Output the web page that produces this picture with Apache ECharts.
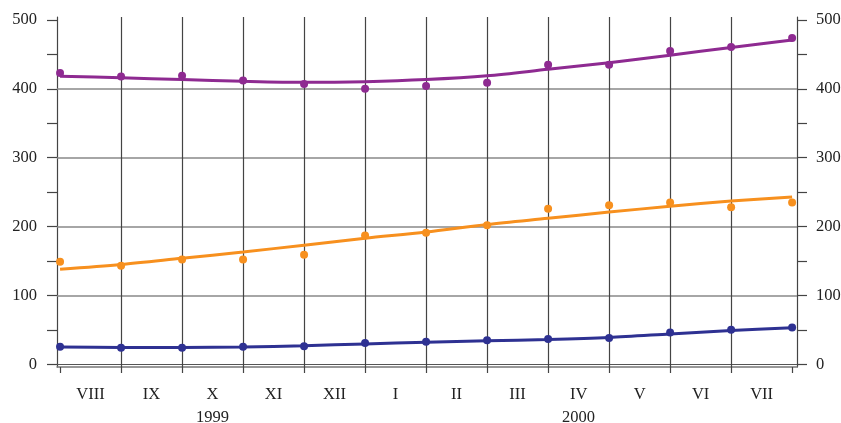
<!DOCTYPE html>
<html>
<head>
<meta charset="utf-8">
<script src="https://cdn.jsdelivr.net/npm/echarts@6/dist/echarts.min.js"></script>
<style>html,body{margin:0;padding:0;background:#fff}#c{width:841px;height:423px}</style>
</head>
<body>
<div id="c"></div>
<script>
var monthLabels = ['VIII','IX','X','XI','XII','I','II','III','IV','V','VI','VII'];
var yearLabels = ['1999','2000'];
var yTickLabels = [0,100,200,300,400,500];
var purpleObs   = [423,418,419,412,407,400,404,409,435,435,455,461,474];
var purpleTrend = [418.5,416,413.5,411,409.5,410.5,413.5,419,428.5,438,449,460,471];
var orangeObs   = [149,143,152,152,159,187,191,202,226,231,235,228,235];
var orangeTrend = [138,145,154,163,173,183,192,203,212,221,229.5,237,243];
var blueObs     = [25.5,24,24,25.5,26,31,32.5,35,36.5,38,46,50,53.5];
var blueTrend   = [25,24.5,24.5,25,27,29.5,32,34,36,39,44,49,53];

var FONT = 'Liberation Serif';
var COL = {purple:'#8E2A91', orange:'#F7901E', blue:'#2E3192'};

function pts(arr){ return arr.map(function(v,i){ return [i, v]; }); }
var xTicks = monthLabels.map(function(_,i){return i;}).concat([monthLabels.length]);
var xMid = monthLabels.map(function(_,i){return i+0.5;});
var yearPos = [2.5, 8.5];
var yMinor = [];
for (var v = 0; v <= 500; v += 50) yMinor.push(v);

var hLines = [100,200,300,400].map(function(v){return {yAxis:v};});
var vLines = [];
for (var k = 1; k < monthLabels.length; k++) vLines.push({xAxis:k});

var chart = echarts.init(document.getElementById('c'), null, {renderer:'canvas'});
chart.setOption({
  animation:false,
  backgroundColor:'#fff',
  grid:{left:57, right:44, top:17, bottom:56, containLabel:false, outerBoundsMode:'none'},
  xAxis:[
    {type:'value', min:-0.05, max:12.08, position:'bottom',
     axisLine:{show:true, onZero:false, lineStyle:{color:'#777', width:1.5}},
     axisTick:{show:true, customValues:xTicks, length:6, lineStyle:{color:'#444', width:1.2}},
     axisLabel:{show:true, customValues:xMid, margin:19, fontFamily:FONT, fontSize:16.5, color:'#222',
       formatter:function(v){ return monthLabels[Math.floor(v)] || ''; }},
     splitLine:{show:false}},
    {type:'value', min:-0.05, max:12.08, position:'bottom',
     axisLine:{show:false}, axisTick:{show:false},
     axisLabel:{show:true, customValues:yearPos, margin:42, fontFamily:FONT, fontSize:16.5, color:'#222',
       formatter:function(v){ return yearLabels[yearPos.indexOf(v)] || ''; }},
     splitLine:{show:false}},
    {type:'value', min:-0.05, max:12.08, position:'top',
     axisLine:{show:true, lineStyle:{color:'#555', width:1.2}}, axisTick:{show:false},
     axisLabel:{show:false}, splitLine:{show:false}}
  ],
  yAxis:[
    {type:'value', min:-4, max:504.4, position:'left',
     axisLine:{show:true, onZero:false, lineStyle:{color:'#444', width:1.2}},
     axisTick:{show:true, customValues:yMinor, length:10, lineStyle:{color:'#444', width:1.2}},
     axisLabel:{show:true, customValues:yTickLabels, margin:20, fontFamily:FONT, fontSize:16.5, color:'#222'},
     splitLine:{show:false}},
    {type:'value', min:-4, max:504.4, position:'right',
     axisLine:{show:true, onZero:false, lineStyle:{color:'#444', width:1.2}},
     axisTick:{show:true, customValues:yMinor, length:10, lineStyle:{color:'#444', width:1.2}},
     axisLabel:{show:true, customValues:yTickLabels, margin:19, fontFamily:FONT, fontSize:16.5, color:'#222'},
     splitLine:{show:false}}
  ],
  series:[
    {type:'line', name:'grid', data:[], silent:true, z:1,
     markLine:{silent:true, symbol:['none','none'], label:{show:false},
       lineStyle:{color:'#888', width:1.5, type:'solid'}, data:hLines, animation:false}},
    {type:'line', name:'vgrid', data:[], silent:true, z:1,
     markLine:{silent:true, symbol:['none','none'], label:{show:false},
       lineStyle:{color:'#444', width:1.2, type:'solid'}, data:vLines, animation:false}},
    {type:'line', data:pts(purpleTrend), smooth:0.3, showSymbol:false, lineStyle:{color:COL.purple, width:3}, z:5},
    {type:'line', data:pts(orangeTrend), smooth:0.3, showSymbol:false, lineStyle:{color:COL.orange, width:3}, z:5},
    {type:'line', data:pts(blueTrend), smooth:0.3, showSymbol:false, lineStyle:{color:COL.blue, width:3}, z:5},
    {type:'scatter', data:pts(purpleObs), symbolSize:8, itemStyle:{color:COL.purple, opacity:1}, z:10},
    {type:'scatter', data:pts(orangeObs), symbolSize:8, itemStyle:{color:COL.orange, opacity:1}, z:10},
    {type:'scatter', data:pts(blueObs), symbolSize:8, itemStyle:{color:COL.blue, opacity:1}, z:10}
  ]
});
</script>
</body>
</html>
